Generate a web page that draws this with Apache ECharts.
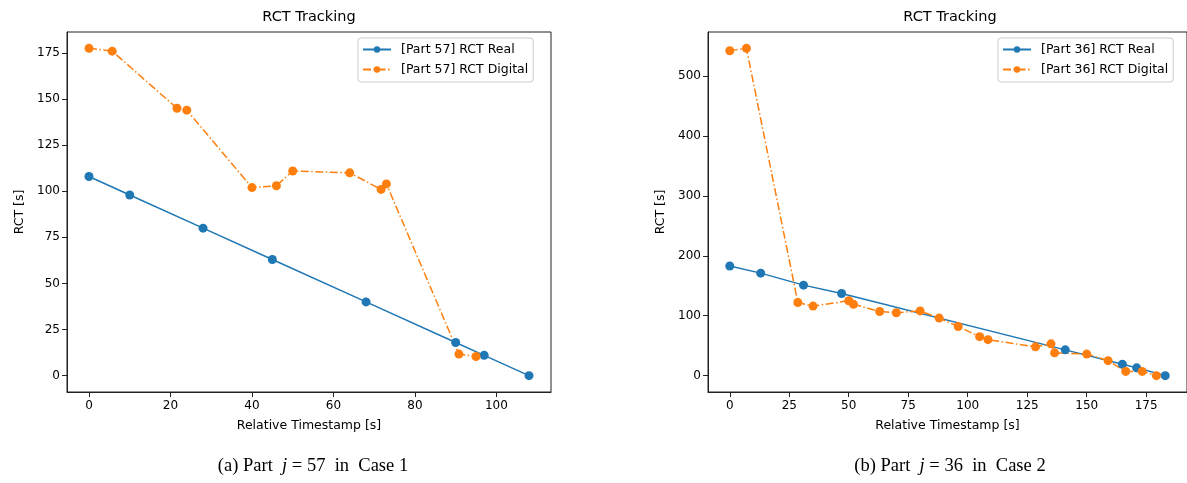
<!DOCTYPE html>
<html>
<head>
<meta charset="utf-8">
<script src="https://cdn.jsdelivr.net/npm/echarts@6/dist/echarts.min.js"></script>
<style>
  html, body { margin: 0; padding: 0; background: #fff; }
  #chart { width: 1187px; height: 483px; }
</style>
</head>
<body>
<div id="chart"></div>
<script>
// Part 57 (Case 1)
const part57RealT = [0, 10, 28, 45, 68, 90, 97, 108];
const part57RealRct = [108, 98, 80, 63, 40, 18, 11, 0];
const part57DigitalT = [0, 5.7, 21.6, 24, 40, 46, 50, 64, 71.7, 73, 90.8, 95];
const part57DigitalRct = [177.5, 176, 145, 144, 102, 103, 111, 110, 101, 104, 11.7, 10.4];

// Part 36 (Case 2)
const part36RealT = [0, 13, 31, 47, 141, 165, 171, 183];
const part36RealRct = [183, 171, 151, 137, 43, 19, 13, 0];
const part36DigitalT = [0, 7, 28.6, 35, 50, 52, 63, 70, 80, 88, 96, 105, 108.5, 128.5, 135, 136.5, 150, 159, 166.4, 173.3, 179.3];
const part36DigitalRct = [542, 546, 122, 116, 125, 119, 107, 105, 108, 96, 82, 65, 60, 48, 53, 38, 36, 25, 7, 7, 0];

// tick labels
const xTicksA = [0, 20, 40, 60, 80, 100];
const yTicksA = [0, 25, 50, 75, 100, 125, 150, 175];
const xTicksB = [0, 25, 50, 75, 100, 125, 150, 175];
const yTicksB = [0, 100, 200, 300, 400, 500];

const BLUE = '#1f77b4';
const ORANGE = '#ff7f0e';
const FONT = 'DejaVu Sans';

const pairs = (xs, ys) => xs.map((x, i) => [x, ys[i]]);

function xAxisOf(gridIndex, min, max, ticks) {
  return {
    type: 'value', gridIndex, min, max,
    name: 'Relative Timestamp [s]', nameLocation: 'middle', nameGap: 27,
    nameTextStyle: { fontFamily: FONT, fontSize: 12.5, color: '#000' },
    axisLine: { onZero: false, lineStyle: { color: '#222', width: 1 } },
    axisTick: { length: 5, customValues: ticks, lineStyle: { color: '#222' } },
    axisLabel: { customValues: ticks, margin: 8, fontFamily: FONT, fontSize: 12, color: '#000' },
    splitLine: { show: false }
  };
}

function yAxisOf(gridIndex, min, max, ticks) {
  return {
    type: 'value', gridIndex, min, max,
    name: 'RCT [s]', nameLocation: 'middle', nameGap: 41,
    nameTextStyle: { fontFamily: FONT, fontSize: 12.5, color: '#000' },
    axisLine: { onZero: false, lineStyle: { color: '#222', width: 1 } },
    axisTick: { length: 5, customValues: ticks, lineStyle: { color: '#222' } },
    axisLabel: { customValues: ticks, margin: 7, fontFamily: FONT, fontSize: 12, color: '#000' },
    splitLine: { show: false }
  };
}

function legendOf(left, names) {
  return {
    data: names, left, top: 38, orient: 'vertical',
    itemWidth: 28, itemHeight: 8, itemGap: 5,
    padding: [4, 5, 5, 4],
    backgroundColor: 'rgba(255,255,255,0.8)',
    borderColor: '#ccc', borderWidth: 1, borderRadius: 3,
    textStyle: { fontFamily: FONT, fontSize: 12.5, color: '#000', padding: [0, 0, 0, 5], lineHeight: 15 }
  };
}

function lineSeries(name, data, color, axis, dashed) {
  return {
    type: 'line', name, data,
    xAxisIndex: axis, yAxisIndex: axis,
    color, symbol: 'circle', symbolSize: 9,
    lineStyle: { color, width: 1.5, type: dashed ? [8, 2.5, 1.5, 2.5] : 'solid' },
    itemStyle: { color },
    animation: false
  };
}

const captionStyle = {
  fontFamily: 'Liberation Serif', fontSize: 18.5, fontWeight: 'normal', color: '#000',
  rich: { i: { fontFamily: 'Liberation Serif', fontSize: 18.5, fontStyle: 'italic', color: '#000' } }
};

const titleStyle = { fontFamily: FONT, fontSize: 14.5, fontWeight: 'normal', color: '#000' };

const chart = echarts.init(document.getElementById('chart'), null, { renderer: 'canvas' });
chart.setOption({
  backgroundColor: '#fff',
  animation: false,
  title: [
    { text: 'RCT Tracking', left: 309, top: 10, textAlign: 'center', padding: 0, textStyle: titleStyle },
    { text: 'RCT Tracking', left: 950, top: 10, textAlign: 'center', padding: 0, textStyle: titleStyle },
    { text: '(a) Part  {i|j} = 57  in  Case 1', left: 313, top: 457, textAlign: 'center', padding: 0,
      textStyle: captionStyle },
    { text: '(b) Part  {i|j} = 36  in  Case 2', left: 950, top: 457, textAlign: 'center', padding: 0,
      textStyle: captionStyle }
  ],
  legend: [
    legendOf(358, ['[Part 57] RCT Real', '[Part 57] RCT Digital']),
    legendOf(998, ['[Part 36] RCT Real', '[Part 36] RCT Digital'])
  ],
  grid: [
    { left: 67, top: 32, width: 484, height: 360, show: true, borderColor: '#222', borderWidth: 1 },
    { left: 708, top: 32, width: 484, height: 360, show: true, borderColor: '#222', borderWidth: 1 }
  ],
  xAxis: [
    xAxisOf(0, -5.4, 113.4, xTicksA),
    xAxisOf(1, -9.15, 192.15, xTicksB)
  ],
  yAxis: [
    yAxisOf(0, -8.875, 186.375, yTicksA),
    yAxisOf(1, -27.3, 573.3, yTicksB)
  ],
  series: [
    lineSeries('[Part 57] RCT Real', pairs(part57RealT, part57RealRct), BLUE, 0, false),
    lineSeries('[Part 57] RCT Digital', pairs(part57DigitalT, part57DigitalRct), ORANGE, 0, true),
    lineSeries('[Part 36] RCT Real', pairs(part36RealT, part36RealRct), BLUE, 1, false),
    lineSeries('[Part 36] RCT Digital', pairs(part36DigitalT, part36DigitalRct), ORANGE, 1, true)
  ]
});
</script>
</body>
</html>
